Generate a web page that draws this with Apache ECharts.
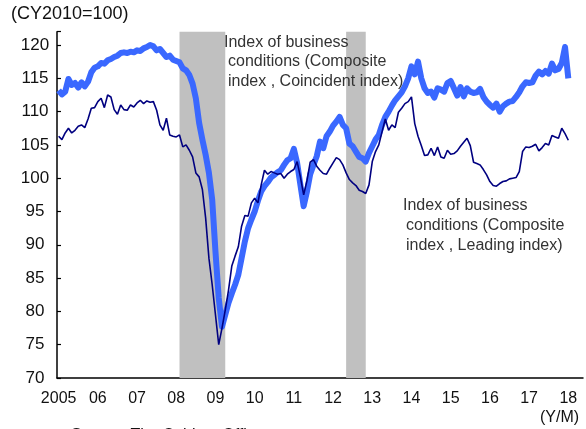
<!DOCTYPE html>
<html lang="en">
<head>
<meta charset="UTF-8">
<title>business conditions</title>
<script src="https://cdn.jsdelivr.net/npm/echarts@6/dist/echarts.min.js"></script>
</head>
<body style="margin:0;background:#fff">
<div id="main" style="width:586px;height:429px;"></div>
<script>
// tick labels (one per January)
var yearLabels = ['2005', '06', '07', '08', '09', '10', '11', '12', '13', '14', '15', '16', '17', '18'];

// Coincident index, monthly from 2005/01
var coincident = [
    113.2, 112.6, 113.0, 114.9, 114.0, 114.3, 113.6, 114.4, 113.8, 114.5, 115.9, 116.6, // 2005
    116.8, 117.3, 117.2, 117.7, 117.9, 118.2, 118.4, 118.8, 118.9, 118.8, 119.0, 118.9, // 2006
    119.2, 119.1, 119.5, 119.7, 120.0, 119.8, 119.2, 119.4, 118.8, 118.2, 118.4, 117.8, // 2007
    117.6, 117.4, 116.5, 116.2, 115.5, 114.2, 112.0, 108.3, 105.8, 103.5, 100.8, 96.8,  // 2008
    89.0, 82.0, 77.7, 79.5, 81.3, 82.7, 84.0, 85.5, 88.0, 90.5, 92.5, 93.8,             // 2009
    95.0, 96.6, 98.0, 98.8, 99.4, 100.1, 100.5, 100.9, 101.2, 102.0, 102.7, 103.0,      // 2010
    104.4, 102.3, 99.0, 95.8, 98.0, 100.6, 102.0, 103.3, 105.5, 104.5, 106.3, 107.0,    // 2011
    107.9, 108.5, 109.2, 108.0, 107.5, 105.2, 104.8, 104.0, 103.2, 103.0, 102.5, 103.8, // 2012
    104.8, 105.8, 106.5, 108.0, 109.2, 110.0, 110.9, 111.7, 112.3, 112.9, 113.8, 115.0, // 2013
    116.8, 115.6, 117.5, 115.0, 113.5, 112.8, 113.0, 112.1, 113.5, 113.3, 113.0, 114.3, // 2014
    114.6, 113.5, 112.4, 113.7, 112.3, 113.5, 113.0, 112.8, 112.9, 113.4, 112.2, 111.5, // 2015
    111.0, 110.6, 111.2, 110.0, 110.8, 111.2, 111.5, 111.6, 112.2, 112.9, 113.8, 114.4, // 2016
    114.3, 114.4, 115.4, 116.0, 115.6, 116.1, 115.7, 117.2, 116.2, 116.4, 117.3, 119.7, // 2017
    115.0                                                                               // 2018
];

// Leading index, monthly from 2005/01
var leading = [
    106.3, 105.8, 106.8, 107.5, 106.8, 107.2, 107.8, 108.0, 107.6, 108.9, 110.5, 110.6, // 2005
    111.5, 112.0, 110.6, 112.5, 112.2, 110.3, 109.6, 111.0, 110.3, 110.2, 111.0, 110.7, // 2006
    111.3, 111.7, 111.2, 111.6, 111.4, 111.5, 110.2, 108.0, 107.2, 109.0, 106.5, 106.3, // 2007
    106.2, 106.5, 104.7, 105.0, 104.2, 103.2, 100.8, 100.2, 98.3, 94.0, 88.0, 84.0,     // 2008
    79.5, 75.0, 77.5, 80.2, 83.2, 86.8, 88.3, 89.7, 92.8, 94.4, 94.3, 96.3,             // 2009
    97.0, 96.3, 99.0, 101.2, 100.6, 101.0, 100.8, 100.6, 100.7, 100.0, 100.6, 101.0,    // 2010
    101.3, 102.5, 100.2, 97.5, 99.6, 102.4, 102.8, 101.8, 101.2, 100.7, 100.6, 101.5,   // 2011
    102.3, 103.1, 102.8, 102.0, 100.8, 99.8, 99.3, 98.9, 98.2, 98.0, 97.7, 99.0,        // 2012
    102.5, 104.0, 105.0, 107.0, 108.9, 107.2, 108.0, 107.6, 109.9, 110.5, 111.2, 111.5, // 2013
    112.2, 108.2, 106.3, 104.9, 103.4, 103.5, 104.5, 103.4, 104.7, 103.2, 103.0, 104.2, // 2014
    103.6, 103.7, 104.1, 104.8, 105.4, 106.0, 104.9, 102.4, 102.2, 102.0, 101.3, 100.5, // 2015
    99.5, 98.9, 98.8, 99.2, 99.5, 99.6, 99.9, 100.0, 100.1, 101.0, 104.0, 104.7,        // 2016
    104.6, 104.8, 105.1, 104.1, 104.6, 105.2, 105.0, 106.4, 106.2, 106.0, 107.5, 106.7, // 2017
    105.7                                                                               // 2018
];

// recession periods (shaded)
var recessions = [['2008/02', '2009/04'], ['2012/05', '2012/11']];

// month categories 2005/01 .. 2018/05
var months = [];
for (var y = 2005; y <= 2018; y++) {
    for (var m = 1; m <= 12; m++) {
        if (y === 2018 && m > 5) break;
        months.push(y + '/' + (m < 10 ? '0' + m : m));
    }
}

var FONT = 'Liberation Sans, Arial, sans-serif';

function isJanuary(index) {
    return index % 12 === 0;
}

// text placed on top of the plot
function note(x, y, text, size, color) {
    return {
        type: 'text',
        x: x,
        y: y,
        z: 100,
        style: {
            text: text,
            font: size + 'px ' + FONT,
            fill: color,
            textVerticalAlign: 'middle',
            verticalAlign: 'middle'
        }
    };
}

var myChart = echarts.init(document.getElementById('main'));
var option = {
    animation: false,
    grid: {
        left: 57,
        right: 3,
        top: 31.7,
        bottom: 51
    },
    xAxis: {
        type: 'category',
        boundaryGap: true,
        data: months,
        axisLine: { lineStyle: { color: '#000', width: 1.5 } },
        axisTick: {
            interval: function (index) { return isJanuary(index); },
            length: 4,
            lineStyle: { color: '#000', width: 1.2 }
        },
        axisLabel: {
            interval: function (index) { return isJanuary(index); },
            formatter: function (value, index) {
                return yearLabels[Math.floor(index / 12)];
            },
            margin: 13,
            fontSize: 16,
            fontFamily: FONT,
            color: '#111'
        },
        splitLine: { show: false }
    },
    yAxis: {
        type: 'value',
        min: 70,
        max: 122,
        interval: 5,
        axisLine: { show: true, lineStyle: { color: '#000', width: 1.5 } },
        axisTick: { show: true, inside: true, length: 4, lineStyle: { color: '#000', width: 1.2 } },
        axisLabel: {
            formatter: function (value) {
                return value % 5 === 0 ? String(value) : '';
            },
            align: 'center',
            margin: 22,
            fontSize: 17,
            fontFamily: FONT,
            color: '#111'
        },
        splitLine: { show: false }
    },
    series: [
        {
            name: 'Coincident index',
            type: 'line',
            data: coincident,
            symbol: 'none',
            z: 2,
            lineStyle: { color: '#3a68ff', width: 6, join: 'round' },
            markArea: {
                silent: true,
                itemStyle: { color: '#c0c0c0' },
                data: recessions.map(function (r) {
                    return [{ xAxis: r[0] }, { xAxis: r[1] }];
                })
            }
        },
        {
            name: 'Leading index',
            type: 'line',
            data: leading,
            symbol: 'none',
            z: 3,
            lineStyle: { color: '#000080', width: 1.6 }
        }
    ],
    graphic: [
        note(11, 14, '(CY2010=100)', 18, '#111'),
        note(224, 43, 'Index of business', 16, '#333'),
        note(228, 62, 'conditions (Composite', 16, '#333'),
        note(228, 82, 'index , Coincident index)', 16, '#333'),
        note(403, 206, 'Index of business', 16, '#333'),
        note(406, 226, 'conditions (Composite', 16, '#333'),
        note(406, 246, 'index , Leading index)', 16, '#333'),
        note(540, 418, '(Y/M)', 16, '#111'),
        note(71, 436, 'Source: The Cabinet Office', 16, '#111')
    ]
};
myChart.setOption(option);
</script>
</body>
</html>
